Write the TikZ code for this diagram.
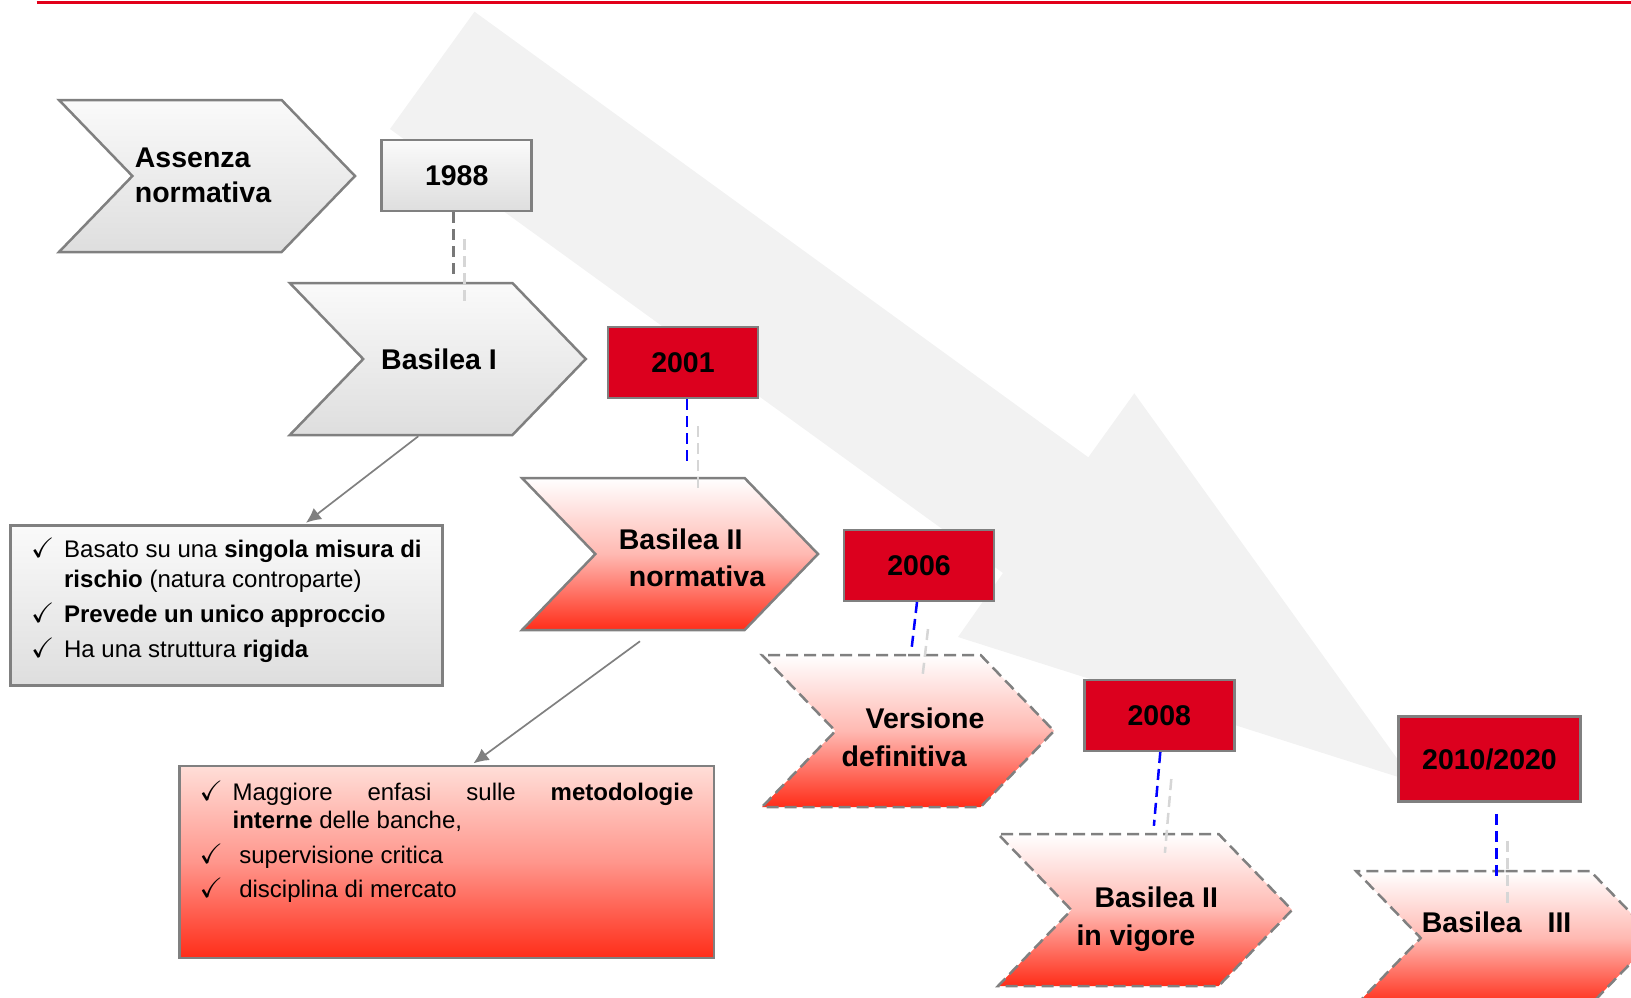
\documentclass[tikz,border=0pt]{standalone}
\usepackage{fontspec}
\setmainfont{Liberation Sans}
\usepackage{amssymb}
\usetikzlibrary{shapes.symbols,arrows.meta,positioning}

\definecolor{topred}{RGB}{226,0,26}
\definecolor{bgarrow}{RGB}{242,242,242}
\definecolor{yearred}{RGB}{220,0,30}
\definecolor{rimgray}{RGB}{128,128,128}
\definecolor{tickgray}{RGB}{120,120,120}
\definecolor{shadgray}{RGB}{214,214,214}
\definecolor{palegray}{RGB}{250,250,250}
\definecolor{midgray}{RGB}{222,222,222}
\definecolor{pinkred}{RGB}{255,185,178}
\definecolor{deepred}{RGB}{255,45,25}
\definecolor{lightpink}{RGB}{255,222,216}
\definecolor{salmon}{RGB}{255,150,140}

\tikzstyle{chev} = [signal, signal from=west, signal to=east, signal pointer angle=92,
    draw=rimgray, line width=2.5pt, minimum width=296pt, minimum height=152pt, inner sep=0pt]
\tikzstyle{graychev} = [chev, top color=palegray, bottom color=midgray]
\tikzstyle{redchev} = [chev, top color=white, bottom color=deepred, middle color=pinkred]
\tikzstyle{newchev} = [redchev, dash pattern=on 12pt off 6pt]
\tikzstyle{title} = [font=\fontsize{28.5pt}{37pt}\selectfont\bfseries, align=left, inner sep=0pt]
\tikzstyle{yearbox} = [draw=rimgray, line width=2.5pt, rectangle, inner sep=0pt,
    minimum width=150pt, minimum height=71pt, font=\fontsize{28.5pt}{34pt}\selectfont\bfseries]
\tikzstyle{listbox} = [draw=rimgray, line width=2.5pt, rectangle, anchor=north west,
    align=left, inner sep=0pt]
\tikzstyle{tick} = [line width=2.5pt, dash pattern=on 11pt off 6pt]
\tikzstyle{tickshadow} = [tick, draw=shadgray, transform canvas={xshift=11pt,yshift=-27pt}]
\tikzstyle{pointer} = [draw=rimgray, line width=1.7pt, ->, shorten >=2pt]

\newcommand{\chk}{\makebox[33pt][l]{\fontsize{28pt}{28pt}\selectfont$\checkmark$}}

\begin{document}
\begin{tikzpicture}[x=1pt, y=-1pt, >={Latex[length=15pt,width=14pt]}]
  \useasboundingbox (0,0) rectangle (1631,997);
  \clip (0,0) rectangle (1631,997);

  \draw[topred, line width=2.7pt] (36.7,2.7) -- (1631,2.7);
  % big arrow in the back
  \fill[bgarrow] (474.5,11.7) -- (1088.3,457.3) -- (1134.3,393.3) -- (1414,782)
    -- (958,637) -- (1003,573) -- (390,129) -- cycle;

  \node [graychev] (asz) at (207,176) {};
  \node [graychev] (bas1) at (437.8,359) {};
  \node [redchev] (bas2) at (670,554) {};
  \node [newchev, minimum width=292pt] (ver) at (908,731) {};
  \node [newchev, minimum width=294pt] (vig) at (1145,910) {};
  \node [newchev, minimum width=299pt, minimum height=134pt] (bas3) at (1505.5,938) {};

  \node [title, font=\fontsize{28.5pt}{35pt}\selectfont\bfseries] (asztxt) at (203,175.3) {Assenza\\normativa};
  \node [title] (bas1txt) at (439,359.8) {Basilea I};
  \node [title] (bas2txt) at (692,558.3) {Basilea II\\\hspace*{10pt}normativa};
  \node [title, font=\fontsize{28.5pt}{38pt}\selectfont\bfseries] (vertxt) at (913,737) {\hspace*{24pt}Versione\\definitiva};
  \node [title, font=\fontsize{28.5pt}{38pt}\selectfont\bfseries] (vigtxt) at (1147.3,918.8) {\hspace*{18pt}Basilea II\\in vigore};
  \node [title] (bas3txt) at (1496.6,922.5) {Basilea\hspace{26pt}III};

  \node [yearbox, top color=palegray, bottom color=midgray] (y1988) at (456.7,175.3) {1988};
  \node [yearbox, fill=yearred] (y2001) at (683,362.5) {2001};
  \node [yearbox, fill=yearred] (y2006) at (919,565.3) {2006};
  \node [yearbox, fill=yearred] (y2008) at (1159.3,715.3) {2008};
  \node [yearbox, fill=yearred, minimum width=182.4pt, minimum height=85pt] (y2010) at (1489.5,759.2) {2010/2020};

  \draw [tickshadow, shorten >=8pt] ([xshift=-3pt]y1988.south) -- ([xshift=-3pt]y1988.south |- bas1.north);
  \draw [tick, draw=tickgray, shorten >=8pt] ([xshift=-3pt]y1988.south) -- ([xshift=-3pt]y1988.south |- bas1.north);
  \draw [tickshadow, shorten >=15pt] ([xshift=4pt]y2001.south) -- ([xshift=4pt]y2001.south |- bas2.north);
  \draw [tick, draw=blue, shorten >=15pt] ([xshift=4pt]y2001.south) -- ([xshift=4pt]y2001.south |- bas2.north);
  \draw [tickshadow, shorten >=5pt] ([xshift=-2pt]y2006.south) -- ([xshift=-8pt]y2006.south |- ver.north);
  \draw [tick, draw=blue, shorten >=5pt] ([xshift=-2pt]y2006.south) -- ([xshift=-8pt]y2006.south |- ver.north);
  \draw [tickshadow, shorten >=7pt] ([xshift=1pt]y2008.south) -- ([xshift=-6pt]y2008.south |- vig.north);
  \draw [tick, draw=blue, shorten >=7pt] ([xshift=1pt]y2008.south) -- ([xshift=-6pt]y2008.south |- vig.north);
  \draw [tickshadow, shorten <=11pt, shorten >=-9pt] ([xshift=7pt]y2010.south) -- ([xshift=7pt]y2010.south |- bas3.north);
  \draw [tick, draw=blue, shorten <=11pt, shorten >=-9pt] ([xshift=7pt]y2010.south) -- ([xshift=7pt]y2010.south |- bas3.north);

  \node [listbox, minimum width=431.7pt, minimum height=160pt, top color=palegray, bottom color=midgray,
    font=\fontsize{24pt}{30pt}\selectfont] (lst1) at (9.3,524)
    {\chk Basato su una \textbf{singola misura di}\\
     \hspace*{33pt}\textbf{rischio} (natura controparte)\\[5pt]
     \chk\textbf{Prevede un unico approccio}\\[5pt]
     \chk Ha una struttura \textbf{rigida}\rule[-15.5pt]{0pt}{15.5pt}};
  \node [listbox, minimum width=534.5pt, minimum height=192pt, top color=lightpink, bottom color=deepred,
    middle color=salmon, font=\fontsize{24pt}{28pt}\selectfont] (lst2) at (178,764.5)
    {\chk\makebox[460.7pt][s]{Maggiore enfasi sulle \textbf{metodologie}}\\
     \hspace*{33pt}\textbf{interne} delle banche,\\[7pt]
     \chk\ supervisione critica\\[6pt]
     \chk\ disciplina di mercato\rule[-45pt]{0pt}{45pt}};

  \draw [pointer] ([xshift=-19.5pt]bas1.south) -- ([xshift=78pt]lst1.north);
  \draw [pointer] ([xshift=-30pt,yshift=-10pt]bas2.south) -- ([xshift=25.4pt]lst2.north);
\end{tikzpicture}
\end{document}
